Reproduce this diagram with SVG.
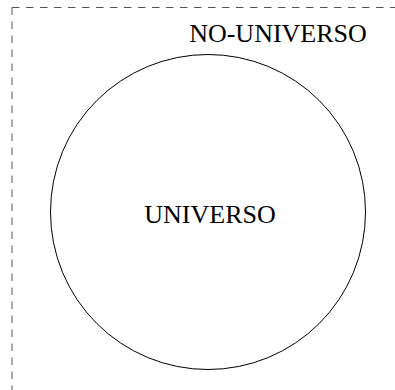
<svg xmlns="http://www.w3.org/2000/svg" width="395" height="390" viewBox="0 0 395 390">
<style>
.border{fill:none;stroke:#555;stroke-width:1;stroke-dasharray:7.5,6.5}
.lbl{font-family:"Liberation Serif","Times New Roman",serif;font-size:26px;fill:#000;text-anchor:middle}
</style>
<rect width="395" height="390" fill="#fff"/>
<g id="no-universo">
<path class="border" d="M12,7.5 L400,7.5"/>
<path class="border" d="M12,7.5 L12,400"/>
<text class="lbl" x="278" y="42">NO-UNIVERSO</text>
</g>
<g id="universo">
<circle cx="208" cy="212" r="157.5" fill="none" stroke="#000" stroke-width="1"/>
<text class="lbl" x="210" y="223">UNIVERSO</text>
</g>
<g id="connectors"/>
</svg>
